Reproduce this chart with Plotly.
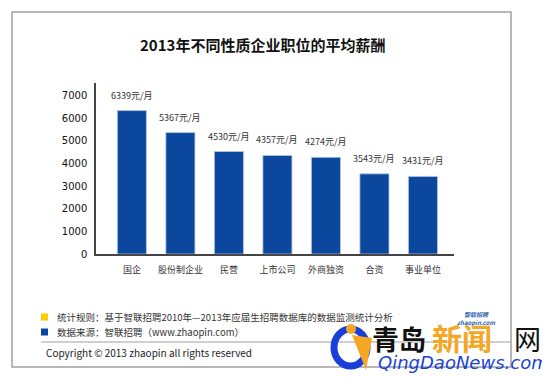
import plotly.graph_objects as go

categories = ["国企", "股份制企业", "民营", "上市公司", "外商独资", "合资", "事业单位"]
salaries = [6339, 5367, 4530, 4357, 4274, 3543, 3431]
value_labels = ["6339元/月", "5367元/月", "4530元/月", "4357元/月", "4274元/月", "3543元/月", "3431元/月"]
y_ticks = [0, 1000, 2000, 3000, 4000, 5000, 6000, 7000]

OFF = 8  # page body margin of the browser
W, H = 550 - OFF, 379 - OFF
L, R, T, B = 96, 454, 83, 254  # plot area in window pixels


def px(x):
    return (x - L) / (R - L)


def py(y):
    return (B - y) / (B - T)


FONT = "Noto Sans CJK SC, Noto Sans, sans-serif"

fig = go.Figure()
fig.add_trace(go.Bar(
    x=categories, y=salaries, width=0.6,
    marker=dict(color="#0a479d", line=dict(color="#b9c9e3", width=0.8)),
    hoverinfo="skip",
))

annotations = []
for c, v, t in zip(categories, salaries, value_labels):
    annotations.append(dict(x=c, y=v, xref="x", yref="y", text=t, showarrow=False,
                            yanchor="bottom", yshift=7,
                            font=dict(size=9, color="#333333", family=FONT)))

# title
annotations.append(dict(x=px(262), y=py(45), xref="paper", yref="paper",
                        text="<b>2013年不同性质企业职位的平均薪酬</b>", showarrow=False,
                        xanchor="center", yanchor="middle",
                        font=dict(size=15, color="#111111", family=FONT)))

# footer notes
annotations.append(dict(x=px(55), y=py(317), xref="paper", yref="paper",
                        text="统计规则：基于智联招聘2010年—2013年应届生招聘数据库的数据监测统计分析",
                        showarrow=False, xanchor="left", yanchor="middle",
                        font=dict(size=9.5, color="#333333", family=FONT)))
annotations.append(dict(x=px(55), y=py(332), xref="paper", yref="paper",
                        text="数据来源：智联招聘（www.zhaopin.com）",
                        showarrow=False, xanchor="left", yanchor="middle",
                        font=dict(size=9.5, color="#333333", family=FONT)))
annotations.append(dict(x=px(44), y=py(352), xref="paper", yref="paper",
                        text="Copyright © 2013 zhaopin all rights reserved",
                        showarrow=False, xanchor="left", yanchor="middle",
                        font=dict(size=10, color="#222222", family=FONT)))

# watermark
annotations.append(dict(x=px(370), y=py(338), xref="paper", yref="paper", text="<b>青岛</b>",
                        showarrow=False, xanchor="left", yanchor="middle",
                        font=dict(size=27, color="#111111", family=FONT)))
annotations.append(dict(x=px(430), y=py(337), xref="paper", yref="paper", text="<b>新闻</b>",
                        showarrow=False, xanchor="left", yanchor="middle",
                        font=dict(size=30, color="#f5a623", family=FONT)))
annotations.append(dict(x=px(512), y=py(338), xref="paper", yref="paper", text="网",
                        showarrow=False, xanchor="left", yanchor="middle",
                        font=dict(size=27, color="#111111", family=FONT)))
annotations.append(dict(x=px(376), y=py(362), xref="paper", yref="paper", text="<i>QingDaoNews.com</i>",
                        showarrow=False, xanchor="left", yanchor="middle",
                        font=dict(size=18, color="#1a3fd8", family="DejaVu Sans, sans-serif")))
annotations.append(dict(x=px(476), y=py(318), xref="paper", yref="paper", text="<b><i>智联招聘<br>zhaopin.com</i></b>",
                        showarrow=False, xanchor="center", yanchor="middle",
                        font=dict(size=6, color="#2a5fb0", family=FONT)))

shapes = [
    # frame
    dict(type="rect", xref="paper", yref="paper", x0=px(12), x1=px(511), y0=py(12), y1=py(367),
         line=dict(color="#a0a0a0", width=1.5), layer="below"),
    # legend squares
    dict(type="rect", xref="paper", yref="paper", x0=px(41), x1=px(48), y0=py(313.5), y1=py(320.5),
         line=dict(width=0), fillcolor="#ffcc00"),
    dict(type="rect", xref="paper", yref="paper", x0=px(41), x1=px(48), y0=py(328.5), y1=py(335.5),
         line=dict(width=0), fillcolor="#0a479d"),
    # separator
    dict(type="line", xref="paper", yref="paper", x0=px(41), x1=px(511), y0=py(342), y1=py(342),
         line=dict(color="#a0a0a0", width=1), layer="below"),
    # watermark logo: blue C shape and orange figure
    dict(type="circle", xref="paper", yref="paper", x0=px(334), x1=px(367), y0=py(329), y1=py(366),
         line=dict(color="#1a3fd8", width=7)),
    dict(type="path", xref="paper", yref="paper",
         path=f"M {px(352)} {py(335)} L {px(372)} {py(338)} L {px(366)} {py(370)} Z",
         line=dict(width=0), fillcolor="#f5a623"),
    dict(type="circle", xref="paper", yref="paper", x0=px(346), x1=px(356), y0=py(324), y1=py(334),
         line=dict(width=0), fillcolor="#f5a623"),
]

fig.update_layout(
    width=W, height=H,
    margin=dict(l=L - OFF, r=550 - R, t=T - OFF, b=379 - B, pad=0),
    paper_bgcolor="white", plot_bgcolor="white",
    showlegend=False,
    bargap=0.4,
    annotations=annotations,
    shapes=shapes,
    xaxis=dict(range=[-0.74, 6.64], showline=True, linecolor="#444444", linewidth=1.5,
               ticks="", showgrid=False, zeroline=False, ticklabelstandoff=6,
               tickfont=dict(size=9, color="#333333", family=FONT), fixedrange=True),
    yaxis=dict(range=[0, 7560], tickvals=y_ticks, showline=True, linecolor="#444444", linewidth=1.5,
               ticks="", showgrid=False, zeroline=False, ticklabelstandoff=5,
               tickfont=dict(size=10, color="#111111", family="DejaVu Sans, sans-serif"), fixedrange=True),
)

fig.write_html("out.html")
